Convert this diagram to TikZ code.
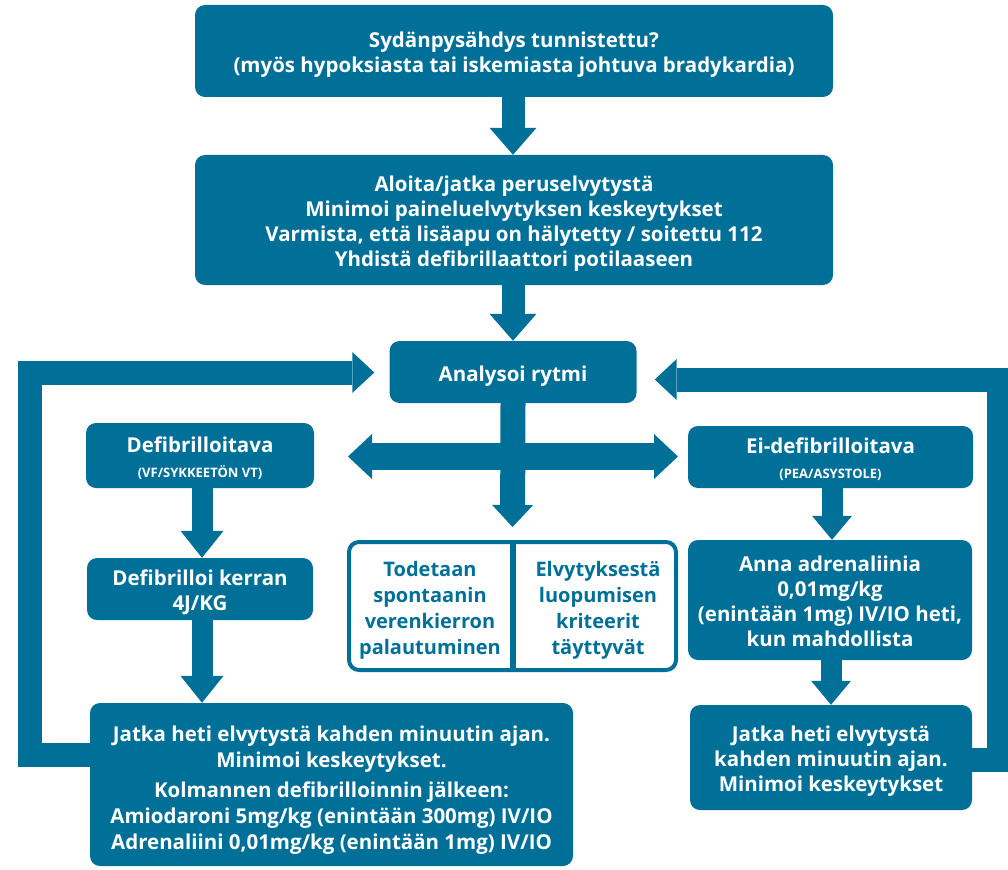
\documentclass[tikz,border=0pt]{standalone}
\usepackage{fontspec}
\setmainfont{Open Sans}
\usetikzlibrary{arrows.meta}
\definecolor{bl}{RGB}{0,112,152}
\newcommand{\subtxt}{\fontsize{13}{15}\selectfont}
\newcommand{\lowered}[1]{\raisebox{-4pt}[\height][\depth]{\begin{tabular}{@{}c@{}}#1\end{tabular}}}
\begin{document}
\begin{tikzpicture}[x=1pt,y=-1pt,
  box/.style={fill=bl, rounded corners=10pt, text=white, inner sep=0pt,
    font=\fontsize{20.5}{25}\selectfont\bfseries},
  midbox/.style={fill=white, draw=bl, line width=4pt, rounded corners=10pt, inner sep=0pt},
  midtext/.style={text=bl, inner sep=0pt, font=\fontsize{20}{26}\selectfont\bfseries},
  fatA/.style={draw=bl, line width=23pt, -{Triangle[width=47pt,length=27pt,line width=0pt]}},
  fatB/.style={draw=bl, line width=21pt, -{Triangle[width=43pt,length=27pt,line width=0pt]}},
  fatC/.style={draw=bl, line width=21pt, -{Triangle[width=40pt,length=24pt,line width=0pt]}},
  loopA/.style={draw=bl, line width=24pt, -{Triangle[width=41pt,length=22pt,line width=0pt]}},
  tee/.style={draw=bl, line width=25pt, -{Triangle[width=41pt,length=22pt,line width=0pt]}},
  dbl/.style={draw=bl, line width=27pt, {Triangle[width=45pt,length=24pt,line width=0pt]}-{Triangle[width=45pt,length=24pt,line width=0pt]}}
]
\useasboundingbox (0,0) rectangle (1008,869);

\node[box, minimum width=638pt, minimum height=92pt] (n1) at (514,51)
  {\lowered{Sydänpysähdys tunnistettu?\\(myös hypoksiasta tai iskemiasta johtuva bradykardia)}};
\node[box, minimum width=638pt, minimum height=130pt] (n2) at (514,220)
  {\lowered{Aloita/jatka peruselvytystä\\Minimoi paineluelvytyksen keskeytykset\\Varmista, että lisäapu on hälytetty / soitettu 112\\Yhdistä defibrillaattori potilaaseen}};
\node[box, minimum width=247pt, minimum height=62pt] (ana) at (513,372) {\lowered{Analysoi rytmi}};

\node[box, minimum width=228pt, minimum height=65pt] (defa) at (200,455.5)
  {\lowered{Defibrilloitava\\{\subtxt (VF/SYKKEETÖN VT)}}};
\node[box, minimum width=226pt, minimum height=62pt] (defk) at (200,589)
  {\lowered{Defibrilloi kerran\\4J/KG}};
\node[box, minimum width=483pt, minimum height=163pt] (jatkaL) at (331.5,784.5)
  {\raisebox{-6pt}[\height][\depth]{\fontsize{20.5}{26}\selectfont\begin{tabular}{@{}c@{}}Jatka heti elvytystä kahden minuutin ajan.\\Minimoi keskeytykset.\\[4pt]Kolmannen defibrilloinnin jälkeen:\\Amiodaroni 5mg/kg (enintään 300mg) IV/IO\\Adrenaliini 0,01mg/kg (enintään 1mg) IV/IO\end{tabular}}};

\node[box, minimum width=285pt, minimum height=62pt] (eid) at (830.5,457)
  {\lowered{Ei-defibrilloitava\\{\subtxt (PEA/ASYSTOLE)}}};
\node[box, minimum width=284pt, minimum height=120pt] (anna) at (830,600)
  {\lowered{Anna adrenaliinia\\0,01mg/kg\\(enintään 1mg) IV/IO heti,\\kun mahdollista}};
\node[box, minimum width=282pt, minimum height=105pt] (jatkaR) at (831,757.5)
  {\lowered{Jatka heti elvytystä\\kahden minuutin ajan.\\Minimoi keskeytykset}};

\node[midbox, minimum width=327pt, minimum height=128pt] (mid) at (512.5,606) {};
\draw[bl, line width=6pt] (mid.north) -- (mid.south);
\node[midtext] (tod) at (430,606) {\lowered{Todetaan\\spontaanin\\verenkierron\\palautuminen}};
\node[midtext] (elv) at (598,606) {\lowered{Elvytyksestä\\luopumisen\\kriteerit\\täyttyvät}};

% arrows
\draw[fatA] (n1.south -| ana.center) -- (n2.north -| ana.center);
\draw[fatA] (n2.south -| ana.center) -- (ana.north);
\draw[fatB] (defa.south -| 202,0) -- (defk.north -| 202,0);
\draw[fatB] (defk.south -| 202,0) -- (jatkaL.north -| 202,0);
\draw[fatC] (eid.south -| 832,0) -- (anna.north -| 832,0);
\draw[fatC] (anna.south -| 831,0) -- (jatkaR.north -| 831,0);
\draw[tee, shorten >=13pt] (ana.south) -- (mid.north);
\coordinate (tl) at (348,456.5);
\coordinate (tr) at (678,456.5);
\draw[dbl] (tl) -- (tr);
\draw[loopA, shorten >=15pt] (jatkaL.west |- 0,755) -- (30,755) -- (30,372.5) -- (ana.west |- 0,372.5);
\draw[loopA, shorten >=18pt] (jatkaR.east |- 0,760) -- (999,760) -- (999,379.5) -- (ana.east |- 0,379.5);
\end{tikzpicture}
\end{document}
